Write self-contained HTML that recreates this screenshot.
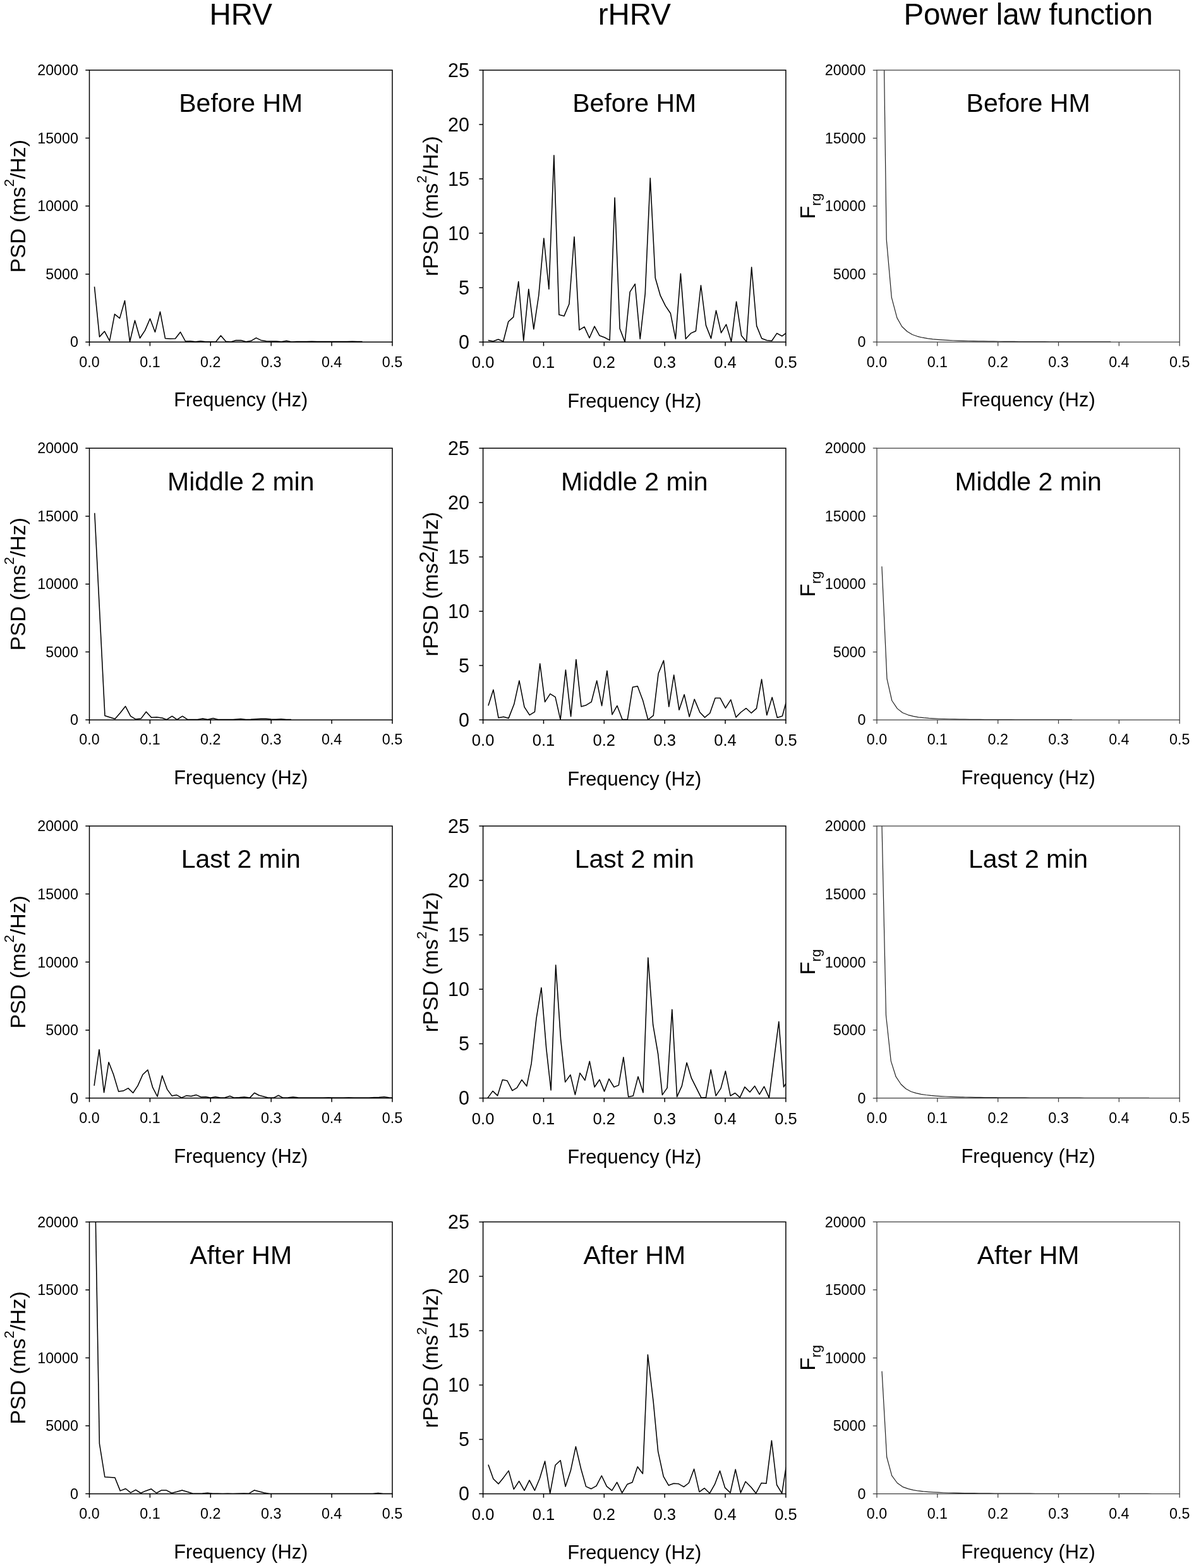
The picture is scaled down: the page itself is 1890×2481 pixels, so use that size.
<!DOCTYPE html><html><head><meta charset="utf-8"><style>html,body{margin:0;padding:0;background:#fff;}svg{display:block;}text{font-family:"Liberation Sans", Arial, sans-serif;fill:#000;}</style></head><body>
<svg width="1890" height="2481" viewBox="0 0 1890 2481">
<rect width="1890" height="2481" fill="#fff"/>
<text x="381.25" y="39.3" font-size="47.5" text-anchor="middle">HRV</text>
<g><clipPath id="cq00"><rect x="141.5" y="111" width="479.5" height="430.2"/></clipPath><polyline clip-path="url(#cq00)" points="149.5,453.6 157.5,532.9 165.5,524.3 173.5,539.3 181.5,497.1 189.5,503.6 197.5,475.7 205.5,540.7 213.5,507.1 221.5,535 229.5,522.9 237.5,504.3 245.5,525.4 253.5,493.3 261.5,535.4 269.5,536 277.5,535.7 285.5,525.4 293.5,540 301.5,539.7 309.5,540.7 317.5,539.7 325.5,540.7 333.5,540.7 341.5,541 349.5,531.1 357.5,540.3 365.5,541.1 373.5,538.6 381.5,538.6 389.5,540.7 397.5,539.3 405.5,534.6 413.5,538.6 421.5,539.7 429.5,540 437.5,540 445.5,540.7 453.5,539.3 461.5,541 469.5,540.6 477.5,540.5 485.5,540.6 493.5,540.2 501.5,540.6 509.5,540.6 517.5,540.5 525.5,540.6 533.5,540.4 541.5,540.6 549.5,540.6 557.5,540.3 565.5,540.6 573.5,540.6" fill="none" stroke="#000" stroke-width="1.55" stroke-linejoin="round"/><rect x="141.5" y="111" width="479.5" height="430.2" fill="none" stroke="#000" stroke-width="1.5"/><path d="M141.5,541.2v6.2M237.4,541.2v6.2M333.3,541.2v6.2M429.2,541.2v6.2M525.1,541.2v6.2M621,541.2v6.2M141.5,541.2h-6.2M141.5,433.65h-6.2M141.5,326.1h-6.2M141.5,218.55h-6.2M141.5,111h-6.2" stroke="#000" stroke-width="1.5" fill="none"/><text x="141.5" y="580.5" font-size="23.3" text-anchor="middle">0.0</text><text x="237.4" y="580.5" font-size="23.3" text-anchor="middle">0.1</text><text x="333.3" y="580.5" font-size="23.3" text-anchor="middle">0.2</text><text x="429.2" y="580.5" font-size="23.3" text-anchor="middle">0.3</text><text x="525.1" y="580.5" font-size="23.3" text-anchor="middle">0.4</text><text x="621" y="580.5" font-size="23.3" text-anchor="middle">0.5</text><text x="124" y="549.45" font-size="23.3" text-anchor="end">0</text><text x="124" y="441.9" font-size="23.3" text-anchor="end">5000</text><text x="124" y="334.35" font-size="23.3" text-anchor="end">10000</text><text x="124" y="226.8" font-size="23.3" text-anchor="end">15000</text><text x="124" y="119.25" font-size="23.3" text-anchor="end">20000</text><text x="381.25" y="177.4" font-size="41.0" text-anchor="middle">Before HM</text><text x="381.25" y="643.2" font-size="30.8" text-anchor="middle">Frequency (Hz)</text><text transform="translate(40.2,326.1) rotate(-90)" x="0" y="0" font-size="34.0" text-anchor="middle">PSD (ms<tspan dy="-18.0" font-size="22.0">2</tspan><tspan dy="18.0">/Hz)</tspan></text></g>
<g><clipPath id="cq10"><rect x="141.5" y="709.2" width="479.5" height="429.9"/></clipPath><polyline clip-path="url(#cq10)" points="149.8,811.7 166,1132.4 182,1137.6 190.3,1128 198.6,1117.6 206.7,1133.2 214.5,1137.9 223.1,1137.1 231.4,1126.2 239.6,1135.3 248.2,1134.8 256.8,1136.1 263.8,1138.7 272.4,1133.2 280.2,1138.7 288.8,1133.2 296.7,1138.4 304.7,1138.6 312.7,1138.4 320.9,1137.1 329,1138.6 337.3,1136.4 345,1138.6 353,1138.4 361,1138.6 369,1138.5 381,1137.5 389,1138.4 397,1138.2 405,1137.8 413,1137.3 421,1137.2 429,1138 437,1138.3 445,1137.8 453,1138.4 461,1138.5" fill="none" stroke="#000" stroke-width="1.55" stroke-linejoin="round"/><rect x="141.5" y="709.2" width="479.5" height="429.9" fill="none" stroke="#000" stroke-width="1.5"/><path d="M141.5,1139.1v6.2M237.4,1139.1v6.2M333.3,1139.1v6.2M429.2,1139.1v6.2M525.1,1139.1v6.2M621,1139.1v6.2M141.5,1139.1h-6.2M141.5,1031.62h-6.2M141.5,924.15h-6.2M141.5,816.67h-6.2M141.5,709.2h-6.2" stroke="#000" stroke-width="1.5" fill="none"/><text x="141.5" y="1178.4" font-size="23.3" text-anchor="middle">0.0</text><text x="237.4" y="1178.4" font-size="23.3" text-anchor="middle">0.1</text><text x="333.3" y="1178.4" font-size="23.3" text-anchor="middle">0.2</text><text x="429.2" y="1178.4" font-size="23.3" text-anchor="middle">0.3</text><text x="525.1" y="1178.4" font-size="23.3" text-anchor="middle">0.4</text><text x="621" y="1178.4" font-size="23.3" text-anchor="middle">0.5</text><text x="124" y="1147.35" font-size="23.3" text-anchor="end">0</text><text x="124" y="1039.87" font-size="23.3" text-anchor="end">5000</text><text x="124" y="932.4" font-size="23.3" text-anchor="end">10000</text><text x="124" y="824.92" font-size="23.3" text-anchor="end">15000</text><text x="124" y="717.45" font-size="23.3" text-anchor="end">20000</text><text x="381.25" y="775.6" font-size="41.0" text-anchor="middle">Middle 2 min</text><text x="381.25" y="1241.1" font-size="30.8" text-anchor="middle">Frequency (Hz)</text><text transform="translate(40.2,924.15) rotate(-90)" x="0" y="0" font-size="34.0" text-anchor="middle">PSD (ms<tspan dy="-18.0" font-size="22.0">2</tspan><tspan dy="18.0">/Hz)</tspan></text></g>
<g><clipPath id="cq20"><rect x="141.5" y="1307" width="479.5" height="430.5"/></clipPath><polyline clip-path="url(#cq20)" points="149.1,1717.9 157,1660.7 164.6,1728.6 172.1,1680.7 179.6,1700 187.7,1727.1 195,1726.1 202.9,1721.9 210.6,1729.3 218.1,1717.9 226,1700.3 233.9,1692.9 241.7,1720.7 249.1,1735 256.7,1702.1 264.6,1723.6 272.1,1733.9 279.6,1732.6 287.4,1736.9 295,1733.6 302.4,1734.6 310.3,1732.4 318.1,1735.7 326,1735.4 333.1,1737.1 341,1735.4 348.9,1736.9 356,1736.7 363.9,1734.3 371,1737.1 378.8,1736.6 386.7,1735.7 395.3,1737.1 402.7,1729.3 410.3,1733.3 417.4,1735 424.6,1737.1 433.1,1737.1 440.7,1733.3 448.1,1737.1 456,1736.8 463.9,1735.7 472,1736.8 480,1737 488,1736.9 496,1737 504,1736.9 512,1736.9 520,1736.7 528,1737 536,1736.9 544,1737 552,1736.8 560,1737 568,1737 576,1736.9 584,1736.9 592,1736.5 600,1736.2 608.1,1735.4 616,1736.8 621,1737" fill="none" stroke="#000" stroke-width="1.55" stroke-linejoin="round"/><rect x="141.5" y="1307" width="479.5" height="430.5" fill="none" stroke="#000" stroke-width="1.5"/><path d="M141.5,1737.5v6.2M237.4,1737.5v6.2M333.3,1737.5v6.2M429.2,1737.5v6.2M525.1,1737.5v6.2M621,1737.5v6.2M141.5,1737.5h-6.2M141.5,1629.88h-6.2M141.5,1522.25h-6.2M141.5,1414.62h-6.2M141.5,1307h-6.2" stroke="#000" stroke-width="1.5" fill="none"/><text x="141.5" y="1776.8" font-size="23.3" text-anchor="middle">0.0</text><text x="237.4" y="1776.8" font-size="23.3" text-anchor="middle">0.1</text><text x="333.3" y="1776.8" font-size="23.3" text-anchor="middle">0.2</text><text x="429.2" y="1776.8" font-size="23.3" text-anchor="middle">0.3</text><text x="525.1" y="1776.8" font-size="23.3" text-anchor="middle">0.4</text><text x="621" y="1776.8" font-size="23.3" text-anchor="middle">0.5</text><text x="124" y="1745.75" font-size="23.3" text-anchor="end">0</text><text x="124" y="1638.12" font-size="23.3" text-anchor="end">5000</text><text x="124" y="1530.5" font-size="23.3" text-anchor="end">10000</text><text x="124" y="1422.87" font-size="23.3" text-anchor="end">15000</text><text x="124" y="1315.25" font-size="23.3" text-anchor="end">20000</text><text x="381.25" y="1373.4" font-size="41.0" text-anchor="middle">Last 2 min</text><text x="381.25" y="1839.5" font-size="30.8" text-anchor="middle">Frequency (Hz)</text><text transform="translate(40.2,1522.25) rotate(-90)" x="0" y="0" font-size="34.0" text-anchor="middle">PSD (ms<tspan dy="-18.0" font-size="22.0">2</tspan><tspan dy="18.0">/Hz)</tspan></text></g>
<g><clipPath id="cq30"><rect x="141.5" y="1933.4" width="479.5" height="430.2"/></clipPath><polyline clip-path="url(#cq30)" points="149.4,1816 157.4,2284.1 165.9,2337 181.9,2338 190.3,2358.9 198.9,2355.5 206.8,2361.9 214.8,2357.3 222.8,2362.5 230.8,2358.9 239.2,2355.9 247.7,2362.5 255.7,2357.9 263.1,2357.9 271.7,2362.5 280.3,2360.3 288.2,2357.9 296.6,2360.5 304.6,2363 312.6,2363.2 320.6,2363 328.5,2362.3 336.5,2363.2 344.5,2363.3 352.5,2363.4 360.5,2363.3 368.5,2363.4 376.5,2363.3 386.1,2363.1 394.1,2363.2 402.7,2357.9 418.1,2362.1 426.7,2363.4 434.7,2363.6 442.7,2363.5 450.7,2363.6 590,2363.6 598.5,2362.6 606.5,2363.6 621,2363.6" fill="none" stroke="#000" stroke-width="1.55" stroke-linejoin="round"/><rect x="141.5" y="1933.4" width="479.5" height="430.2" fill="none" stroke="#000" stroke-width="1.5"/><path d="M141.5,2363.6v6.2M237.4,2363.6v6.2M333.3,2363.6v6.2M429.2,2363.6v6.2M525.1,2363.6v6.2M621,2363.6v6.2M141.5,2363.6h-6.2M141.5,2256.05h-6.2M141.5,2148.5h-6.2M141.5,2040.95h-6.2M141.5,1933.4h-6.2" stroke="#000" stroke-width="1.5" fill="none"/><text x="141.5" y="2402.9" font-size="23.3" text-anchor="middle">0.0</text><text x="237.4" y="2402.9" font-size="23.3" text-anchor="middle">0.1</text><text x="333.3" y="2402.9" font-size="23.3" text-anchor="middle">0.2</text><text x="429.2" y="2402.9" font-size="23.3" text-anchor="middle">0.3</text><text x="525.1" y="2402.9" font-size="23.3" text-anchor="middle">0.4</text><text x="621" y="2402.9" font-size="23.3" text-anchor="middle">0.5</text><text x="124" y="2371.85" font-size="23.3" text-anchor="end">0</text><text x="124" y="2264.3" font-size="23.3" text-anchor="end">5000</text><text x="124" y="2156.75" font-size="23.3" text-anchor="end">10000</text><text x="124" y="2049.2" font-size="23.3" text-anchor="end">15000</text><text x="124" y="1941.65" font-size="23.3" text-anchor="end">20000</text><text x="381.25" y="1999.8" font-size="41.0" text-anchor="middle">After HM</text><text x="381.25" y="2465.6" font-size="30.8" text-anchor="middle">Frequency (Hz)</text><text transform="translate(40.2,2148.5) rotate(-90)" x="0" y="0" font-size="34.0" text-anchor="middle">PSD (ms<tspan dy="-18.0" font-size="22.0">2</tspan><tspan dy="18.0">/Hz)</tspan></text></g>
<text x="1004.25" y="39.3" font-size="47.5" text-anchor="middle">rHRV</text>
<g><clipPath id="cq01"><rect x="764.6" y="111" width="479.3" height="430.2"/></clipPath><polyline clip-path="url(#cq01)" points="772.62,538.4 780.64,539.9 788.66,537 796.68,540.2 804.7,509 812.72,501.6 820.74,445.6 828.76,539.2 836.78,457.6 844.8,520.8 852.82,467 860.84,377 868.86,457.5 876.88,245.8 884.9,497.9 892.92,500.1 900.94,481 908.96,374.8 916.98,522.2 925,517.1 933.02,534.8 941.04,516.3 949.06,531.1 957.08,534 965.1,538.4 973.12,312.9 981.14,520 989.16,541.1 997.18,461.8 1005.2,449.3 1013.22,536.2 1021.24,464.7 1029.26,281.9 1037.28,439.7 1045.3,467.7 1053.32,483.9 1061.34,495.7 1069.36,536.2 1077.38,433 1085.4,536.2 1093.42,527.4 1101.44,523.7 1109.46,451.5 1117.48,514.9 1125.5,535.5 1133.52,491.3 1141.54,526.7 1149.56,513.4 1157.58,540.7 1165.6,477.3 1173.62,531.1 1181.64,540.7 1189.66,422.7 1197.68,515.6 1205.7,535.5 1213.72,538.4 1221.74,539.2 1229.76,527.4 1237.78,531.8 1245.8,525.9" fill="none" stroke="#000" stroke-width="1.55" stroke-linejoin="round"/><rect x="764.6" y="111" width="479.3" height="430.2" fill="none" stroke="#000" stroke-width="1.5"/><path d="M764.6,541.2v6.2M860.46,541.2v6.2M956.32,541.2v6.2M1052.18,541.2v6.2M1148.04,541.2v6.2M1243.9,541.2v6.2M764.6,541.2h-6.2M764.6,455.16h-6.2M764.6,369.12h-6.2M764.6,283.08h-6.2M764.6,197.04h-6.2M764.6,111h-6.2" stroke="#000" stroke-width="1.5" fill="none"/><text x="764.6" y="582.2" font-size="25.5" text-anchor="middle">0.0</text><text x="860.46" y="582.2" font-size="25.5" text-anchor="middle">0.1</text><text x="956.32" y="582.2" font-size="25.5" text-anchor="middle">0.2</text><text x="1052.18" y="582.2" font-size="25.5" text-anchor="middle">0.3</text><text x="1148.04" y="582.2" font-size="25.5" text-anchor="middle">0.4</text><text x="1243.9" y="582.2" font-size="25.5" text-anchor="middle">0.5</text><text x="743" y="552" font-size="30.5" text-anchor="end">0</text><text x="743" y="465.96" font-size="30.5" text-anchor="end">5</text><text x="743" y="379.92" font-size="30.5" text-anchor="end">10</text><text x="743" y="293.88" font-size="30.5" text-anchor="end">15</text><text x="743" y="207.84" font-size="30.5" text-anchor="end">20</text><text x="743" y="121.8" font-size="30.5" text-anchor="end">25</text><text x="1004.25" y="177.4" font-size="41.0" text-anchor="middle">Before HM</text><text x="1004.25" y="644.7" font-size="30.8" text-anchor="middle">Frequency (Hz)</text><text transform="translate(692.9,326.1) rotate(-90)" x="0" y="0" font-size="34.0" text-anchor="middle">rPSD (ms<tspan dy="-18.0" font-size="22.0">2</tspan><tspan dy="18.0">/Hz)</tspan></text></g>
<g><clipPath id="cq11"><rect x="764.6" y="709.2" width="479.3" height="429.9"/></clipPath><polyline clip-path="url(#cq11)" points="772.9,1116.4 780.9,1091.4 789,1135.7 797.1,1134.3 805.1,1136.4 813.7,1114.3 821.9,1077.1 830,1118.6 838.3,1131.4 846.4,1126.4 854.7,1050 862.6,1110.7 870.9,1097.9 879,1102.9 887.1,1138.6 895.4,1060 903.6,1133.6 911.9,1043.6 920,1117.9 928,1115.7 936.1,1110.7 944.7,1077.1 952.6,1116.7 960.9,1061.4 969,1130.7 976.9,1116.7 985.1,1138.6 993.3,1138.3 1001.5,1087.2 1009.2,1085.7 1017.7,1108.6 1025.8,1138.8 1034.2,1132.2 1042.1,1065.8 1050.5,1045.1 1058.8,1118.2 1066.7,1068 1075,1123.3 1083.1,1099 1091.2,1134.1 1099.2,1106.4 1107.8,1127 1115.6,1135.1 1123.7,1128.5 1132.1,1104.4 1139.9,1104.4 1148.4,1120.4 1156.8,1107.1 1165,1134.9 1172.7,1127 1181.1,1120.7 1189.3,1128.2 1197.5,1120.8 1205.6,1074.9 1213.8,1131.5 1222.2,1103.4 1230.3,1135.4 1238.4,1132.9 1244.2,1111.5" fill="none" stroke="#000" stroke-width="1.55" stroke-linejoin="round"/><rect x="764.6" y="709.2" width="479.3" height="429.9" fill="none" stroke="#000" stroke-width="1.5"/><path d="M764.6,1139.1v6.2M860.46,1139.1v6.2M956.32,1139.1v6.2M1052.18,1139.1v6.2M1148.04,1139.1v6.2M1243.9,1139.1v6.2M764.6,1139.1h-6.2M764.6,1053.12h-6.2M764.6,967.14h-6.2M764.6,881.16h-6.2M764.6,795.18h-6.2M764.6,709.2h-6.2" stroke="#000" stroke-width="1.5" fill="none"/><text x="764.6" y="1180.1" font-size="25.5" text-anchor="middle">0.0</text><text x="860.46" y="1180.1" font-size="25.5" text-anchor="middle">0.1</text><text x="956.32" y="1180.1" font-size="25.5" text-anchor="middle">0.2</text><text x="1052.18" y="1180.1" font-size="25.5" text-anchor="middle">0.3</text><text x="1148.04" y="1180.1" font-size="25.5" text-anchor="middle">0.4</text><text x="1243.9" y="1180.1" font-size="25.5" text-anchor="middle">0.5</text><text x="743" y="1149.9" font-size="30.5" text-anchor="end">0</text><text x="743" y="1063.92" font-size="30.5" text-anchor="end">5</text><text x="743" y="977.94" font-size="30.5" text-anchor="end">10</text><text x="743" y="891.96" font-size="30.5" text-anchor="end">15</text><text x="743" y="805.98" font-size="30.5" text-anchor="end">20</text><text x="743" y="720" font-size="30.5" text-anchor="end">25</text><text x="1004.25" y="775.6" font-size="41.0" text-anchor="middle">Middle 2 min</text><text x="1004.25" y="1242.6" font-size="30.8" text-anchor="middle">Frequency (Hz)</text><text transform="translate(692.9,924.15) rotate(-90)" x="0" y="0" font-size="34.0" text-anchor="middle">rPSD (ms<tspan dy="-6">2</tspan><tspan dy="6">/Hz)</tspan></text></g>
<g><clipPath id="cq21"><rect x="764.6" y="1307" width="479.3" height="430.5"/></clipPath><polyline clip-path="url(#cq21)" points="772.1,1737.1 780,1726.4 787.6,1733.6 795.4,1708.6 802.9,1710 810.9,1725.7 818.3,1721.1 825.9,1708.6 833.7,1718.6 841.1,1682.9 849,1611.4 856.9,1562.9 864.7,1658.6 872.1,1725 879.7,1527.1 887.6,1644.3 894.7,1712.1 902.9,1700.7 910.4,1732.1 918,1697.9 925.9,1709.3 933.3,1679.3 941.1,1720 949,1708.3 956.6,1726.9 964,1707.1 971.9,1720 979.3,1717.1 986.9,1672.9 994.7,1735.4 1002.2,1733.9 1010,1703.6 1018,1728.7 1025.8,1515.4 1033.7,1621.7 1041.6,1667.5 1048.4,1732.4 1056.1,1721.4 1063.8,1597.4 1071.6,1735.4 1079.3,1718.4 1087.1,1681.5 1094.5,1705.9 1110,1736.9 1117.4,1736.6 1125.2,1692.6 1133.2,1733.9 1141,1722.1 1148.4,1694.8 1156.2,1733.9 1163.6,1729.5 1171.2,1736.6 1178.9,1719.9 1187,1728 1194.6,1718.4 1202.2,1731.7 1209.6,1719.2 1217.4,1736.9 1232.8,1616.6 1240.6,1719.9 1244.2,1714" fill="none" stroke="#000" stroke-width="1.55" stroke-linejoin="round"/><rect x="764.6" y="1307" width="479.3" height="430.5" fill="none" stroke="#000" stroke-width="1.5"/><path d="M764.6,1737.5v6.2M860.46,1737.5v6.2M956.32,1737.5v6.2M1052.18,1737.5v6.2M1148.04,1737.5v6.2M1243.9,1737.5v6.2M764.6,1737.5h-6.2M764.6,1651.4h-6.2M764.6,1565.3h-6.2M764.6,1479.2h-6.2M764.6,1393.1h-6.2M764.6,1307h-6.2" stroke="#000" stroke-width="1.5" fill="none"/><text x="764.6" y="1778.5" font-size="25.5" text-anchor="middle">0.0</text><text x="860.46" y="1778.5" font-size="25.5" text-anchor="middle">0.1</text><text x="956.32" y="1778.5" font-size="25.5" text-anchor="middle">0.2</text><text x="1052.18" y="1778.5" font-size="25.5" text-anchor="middle">0.3</text><text x="1148.04" y="1778.5" font-size="25.5" text-anchor="middle">0.4</text><text x="1243.9" y="1778.5" font-size="25.5" text-anchor="middle">0.5</text><text x="743" y="1748.3" font-size="30.5" text-anchor="end">0</text><text x="743" y="1662.2" font-size="30.5" text-anchor="end">5</text><text x="743" y="1576.1" font-size="30.5" text-anchor="end">10</text><text x="743" y="1490" font-size="30.5" text-anchor="end">15</text><text x="743" y="1403.9" font-size="30.5" text-anchor="end">20</text><text x="743" y="1317.8" font-size="30.5" text-anchor="end">25</text><text x="1004.25" y="1373.4" font-size="41.0" text-anchor="middle">Last 2 min</text><text x="1004.25" y="1841" font-size="30.8" text-anchor="middle">Frequency (Hz)</text><text transform="translate(692.9,1522.25) rotate(-90)" x="0" y="0" font-size="34.0" text-anchor="middle">rPSD (ms<tspan dy="-18.0" font-size="22.0">2</tspan><tspan dy="18.0">/Hz)</tspan></text></g>
<g><clipPath id="cq31"><rect x="764.6" y="1933.4" width="479.3" height="430.2"/></clipPath><polyline clip-path="url(#cq31)" points="772.9,2317.4 780.9,2340 789,2347.9 797.1,2337.9 805.1,2327.1 813.3,2356.4 821.6,2343.6 830,2358.3 838,2342.1 846.4,2358.3 854.3,2339.3 862.6,2312.1 870.7,2362.9 879,2318.3 887.1,2310.7 895.1,2352.1 903.3,2327.1 911.4,2288.9 919.7,2324.3 927.6,2352.1 935.9,2355.7 944,2351.1 952.3,2335 960.4,2351.9 968.6,2358.3 976.6,2345.4 984.7,2362.1 992.9,2348.6 1000.9,2345.6 1009.2,2320.7 1017.4,2331.8 1025.4,2143.5 1034.2,2218.1 1041.6,2296.3 1050.2,2336.2 1058.3,2350.2 1066.4,2347.3 1073.8,2347.7 1082.4,2352.7 1090.3,2346.5 1098.6,2324.4 1107,2360.6 1115.1,2354.7 1123.3,2362.8 1131.4,2348.7 1139.5,2327.3 1147.6,2353.9 1156,2362 1164.2,2325.1 1172.4,2362 1180.1,2344.3 1189,2353.2 1196.6,2362.8 1205.2,2346.5 1212.9,2347.3 1221.4,2279.4 1229.6,2349.5 1237.7,2362.8 1244.2,2321.4" fill="none" stroke="#000" stroke-width="1.55" stroke-linejoin="round"/><rect x="764.6" y="1933.4" width="479.3" height="430.2" fill="none" stroke="#000" stroke-width="1.5"/><path d="M764.6,2363.6v6.2M860.46,2363.6v6.2M956.32,2363.6v6.2M1052.18,2363.6v6.2M1148.04,2363.6v6.2M1243.9,2363.6v6.2M764.6,2363.6h-6.2M764.6,2277.56h-6.2M764.6,2191.52h-6.2M764.6,2105.48h-6.2M764.6,2019.44h-6.2M764.6,1933.4h-6.2" stroke="#000" stroke-width="1.5" fill="none"/><text x="764.6" y="2404.6" font-size="25.5" text-anchor="middle">0.0</text><text x="860.46" y="2404.6" font-size="25.5" text-anchor="middle">0.1</text><text x="956.32" y="2404.6" font-size="25.5" text-anchor="middle">0.2</text><text x="1052.18" y="2404.6" font-size="25.5" text-anchor="middle">0.3</text><text x="1148.04" y="2404.6" font-size="25.5" text-anchor="middle">0.4</text><text x="1243.9" y="2404.6" font-size="25.5" text-anchor="middle">0.5</text><text x="743" y="2374.4" font-size="30.5" text-anchor="end">0</text><text x="743" y="2288.36" font-size="30.5" text-anchor="end">5</text><text x="743" y="2202.32" font-size="30.5" text-anchor="end">10</text><text x="743" y="2116.28" font-size="30.5" text-anchor="end">15</text><text x="743" y="2030.24" font-size="30.5" text-anchor="end">20</text><text x="743" y="1944.2" font-size="30.5" text-anchor="end">25</text><text x="1004.25" y="1999.8" font-size="41.0" text-anchor="middle">After HM</text><text x="1004.25" y="2467.1" font-size="30.8" text-anchor="middle">Frequency (Hz)</text><text transform="translate(692.9,2148.5) rotate(-90)" x="0" y="0" font-size="34.0" text-anchor="middle">rPSD (ms<tspan dy="-18.0" font-size="22.0">2</tspan><tspan dy="18.0">/Hz)</tspan></text></g>
<text x="1627.6" y="39.3" font-size="47.5" text-anchor="middle" letter-spacing="-0.26">Power law function</text>
<g><clipPath id="cp0"><rect x="1388" y="111" width="479.2" height="430.2"/></clipPath><polyline clip-path="url(#cp0)" points="1399.6,111 1403.2,379 1411.3,470.6 1419.9,502.9 1427.7,516.8 1436,524.5 1444.3,529.5 1452.35,532.3 1460.4,534.21 1468.45,535.57 1476.5,536.57 1484.55,537.32 1492.6,537.91 1500.65,538.37 1508.7,538.75 1516.75,539.05 1524.8,539.3 1532.85,539.51 1540.9,539.69 1548.95,539.84 1557,539.97 1565.05,540.08 1573.1,540.18 1581.15,540.26 1589.2,540.34 1597.25,540.41 1605.3,540.46 1613.35,540.52 1621.4,540.57 1629.45,540.61 1637.5,540.65 1645.55,540.68 1653.6,540.71 1661.65,540.74 1669.7,540.77 1677.75,540.79 1685.8,540.81 1693.85,540.84 1701.9,540.85 1709.95,540.87 1718,540.89 1726.05,540.9 1734.1,540.92 1742.15,540.93 1750.2,540.94 1758.25,540.95" fill="none" stroke="#222" stroke-width="1.2" stroke-linejoin="round"/><rect x="1388" y="111" width="479.2" height="430.2" fill="none" stroke="#3e3e3e" stroke-width="1.25"/><path d="M1388,541.2v6.2M1483.84,541.2v6.2M1579.68,541.2v6.2M1675.52,541.2v6.2M1771.36,541.2v6.2M1867.2,541.2v6.2M1388,541.2h-6.2M1388,433.65h-6.2M1388,326.1h-6.2M1388,218.55h-6.2M1388,111h-6.2" stroke="#3e3e3e" stroke-width="1.25" fill="none"/><text x="1388" y="580.5" font-size="23.3" text-anchor="middle">0.0</text><text x="1483.84" y="580.5" font-size="23.3" text-anchor="middle">0.1</text><text x="1579.68" y="580.5" font-size="23.3" text-anchor="middle">0.2</text><text x="1675.52" y="580.5" font-size="23.3" text-anchor="middle">0.3</text><text x="1771.36" y="580.5" font-size="23.3" text-anchor="middle">0.4</text><text x="1867.2" y="580.5" font-size="23.3" text-anchor="middle">0.5</text><text x="1370.5" y="549.45" font-size="23.3" text-anchor="end">0</text><text x="1370.5" y="441.9" font-size="23.3" text-anchor="end">5000</text><text x="1370.5" y="334.35" font-size="23.3" text-anchor="end">10000</text><text x="1370.5" y="226.8" font-size="23.3" text-anchor="end">15000</text><text x="1370.5" y="119.25" font-size="23.3" text-anchor="end">20000</text><text x="1627.6" y="177.4" font-size="41.0" text-anchor="middle">Before HM</text><text x="1627.6" y="643.2" font-size="30.8" text-anchor="middle">Frequency (Hz)</text><text transform="translate(1290,326.1) rotate(-90)" x="0" y="0" font-size="34.0" text-anchor="middle">F<tspan dy="9" font-size="22.4">rg</tspan></text></g>
<g><clipPath id="cp1"><rect x="1388" y="709.2" width="479.2" height="429.9"/></clipPath><polyline clip-path="url(#cp1)" points="1395.9,896.3 1404,1074.2 1411.8,1108.5 1420.3,1121.1 1428.7,1127.7 1437.7,1131.3 1445.8,1133.42 1453.9,1134.79 1462,1135.72 1470.1,1136.38 1478.2,1136.86 1486.3,1137.23 1494.4,1137.51 1502.5,1137.74 1510.6,1137.92 1518.7,1138.07 1526.8,1138.19 1534.9,1138.29 1543,1138.37 1551.1,1138.45 1559.2,1138.51 1567.3,1138.56 1575.4,1138.61 1583.5,1138.65 1591.6,1138.69 1599.7,1138.72 1607.8,1138.75 1615.9,1138.77 1624,1138.8 1632.1,1138.82 1640.2,1138.84 1648.3,1138.85 1656.4,1138.87 1664.5,1138.88 1672.6,1138.89 1680.7,1138.91 1688.8,1138.92 1696.9,1138.93" fill="none" stroke="#222" stroke-width="1.2" stroke-linejoin="round"/><rect x="1388" y="709.2" width="479.2" height="429.9" fill="none" stroke="#3e3e3e" stroke-width="1.25"/><path d="M1388,1139.1v6.2M1483.84,1139.1v6.2M1579.68,1139.1v6.2M1675.52,1139.1v6.2M1771.36,1139.1v6.2M1867.2,1139.1v6.2M1388,1139.1h-6.2M1388,1031.62h-6.2M1388,924.15h-6.2M1388,816.67h-6.2M1388,709.2h-6.2" stroke="#3e3e3e" stroke-width="1.25" fill="none"/><text x="1388" y="1178.4" font-size="23.3" text-anchor="middle">0.0</text><text x="1483.84" y="1178.4" font-size="23.3" text-anchor="middle">0.1</text><text x="1579.68" y="1178.4" font-size="23.3" text-anchor="middle">0.2</text><text x="1675.52" y="1178.4" font-size="23.3" text-anchor="middle">0.3</text><text x="1771.36" y="1178.4" font-size="23.3" text-anchor="middle">0.4</text><text x="1867.2" y="1178.4" font-size="23.3" text-anchor="middle">0.5</text><text x="1370.5" y="1147.35" font-size="23.3" text-anchor="end">0</text><text x="1370.5" y="1039.87" font-size="23.3" text-anchor="end">5000</text><text x="1370.5" y="932.4" font-size="23.3" text-anchor="end">10000</text><text x="1370.5" y="824.92" font-size="23.3" text-anchor="end">15000</text><text x="1370.5" y="717.45" font-size="23.3" text-anchor="end">20000</text><text x="1627.6" y="775.6" font-size="41.0" text-anchor="middle">Middle 2 min</text><text x="1627.6" y="1241.1" font-size="30.8" text-anchor="middle">Frequency (Hz)</text><text transform="translate(1290,924.15) rotate(-90)" x="0" y="0" font-size="34.0" text-anchor="middle">F<tspan dy="9" font-size="22.4">rg</tspan></text></g>
<g><clipPath id="cp2"><rect x="1388" y="1307" width="479.2" height="430.5"/></clipPath><polyline clip-path="url(#cp2)" points="1396,1307 1402.5,1606.8 1410.3,1678.9 1418.2,1703.7 1426.1,1715.5 1433.9,1722.7 1442.2,1727.2 1450.05,1729.66 1457.9,1731.33 1465.75,1732.52 1473.6,1733.4 1481.45,1734.07 1489.3,1734.59 1497.15,1735 1505,1735.32 1512.85,1735.59 1520.7,1735.81 1528.55,1736 1536.4,1736.16 1544.25,1736.29 1552.1,1736.4 1559.95,1736.5 1567.8,1736.59 1575.65,1736.67 1583.5,1736.73 1591.35,1736.79 1599.2,1736.84 1607.05,1736.89 1614.9,1736.93 1622.75,1736.97 1630.6,1737.01 1638.45,1737.04 1646.3,1737.06 1654.15,1737.09 1662,1737.11 1669.85,1737.14 1677.7,1737.16 1685.55,1737.17 1693.4,1737.19 1701.25,1737.21 1709.1,1737.22 1716.95,1737.23 1724.8,1737.25 1732.65,1737.26 1740.5,1737.27 1748.35,1737.28 1756.2,1737.29 1764.05,1737.3 1771.9,1737.31 1779.75,1737.31 1787.6,1737.32 1795.45,1737.33 1803.3,1737.33 1811.15,1737.34 1819,1737.35" fill="none" stroke="#222" stroke-width="1.2" stroke-linejoin="round"/><rect x="1388" y="1307" width="479.2" height="430.5" fill="none" stroke="#3e3e3e" stroke-width="1.25"/><path d="M1388,1737.5v6.2M1483.84,1737.5v6.2M1579.68,1737.5v6.2M1675.52,1737.5v6.2M1771.36,1737.5v6.2M1867.2,1737.5v6.2M1388,1737.5h-6.2M1388,1629.88h-6.2M1388,1522.25h-6.2M1388,1414.62h-6.2M1388,1307h-6.2" stroke="#3e3e3e" stroke-width="1.25" fill="none"/><text x="1388" y="1776.8" font-size="23.3" text-anchor="middle">0.0</text><text x="1483.84" y="1776.8" font-size="23.3" text-anchor="middle">0.1</text><text x="1579.68" y="1776.8" font-size="23.3" text-anchor="middle">0.2</text><text x="1675.52" y="1776.8" font-size="23.3" text-anchor="middle">0.3</text><text x="1771.36" y="1776.8" font-size="23.3" text-anchor="middle">0.4</text><text x="1867.2" y="1776.8" font-size="23.3" text-anchor="middle">0.5</text><text x="1370.5" y="1745.75" font-size="23.3" text-anchor="end">0</text><text x="1370.5" y="1638.12" font-size="23.3" text-anchor="end">5000</text><text x="1370.5" y="1530.5" font-size="23.3" text-anchor="end">10000</text><text x="1370.5" y="1422.87" font-size="23.3" text-anchor="end">15000</text><text x="1370.5" y="1315.25" font-size="23.3" text-anchor="end">20000</text><text x="1627.6" y="1373.4" font-size="41.0" text-anchor="middle">Last 2 min</text><text x="1627.6" y="1839.5" font-size="30.8" text-anchor="middle">Frequency (Hz)</text><text transform="translate(1290,1522.25) rotate(-90)" x="0" y="0" font-size="34.0" text-anchor="middle">F<tspan dy="9" font-size="22.4">rg</tspan></text></g>
<g><clipPath id="cp3"><rect x="1388" y="1933.4" width="479.2" height="430.2"/></clipPath><polyline clip-path="url(#cp3)" points="1396,2169.6 1403.7,2305.5 1411.7,2334.8 1420.3,2346.5 1428.8,2352.6 1437.4,2355.6 1445.45,2357.63 1453.5,2358.97 1461.55,2359.9 1469.6,2360.57 1477.65,2361.07 1485.7,2361.46 1493.75,2361.76 1501.8,2362 1509.85,2362.2 1517.9,2362.36 1525.95,2362.49 1534,2362.61 1542.05,2362.7 1550.1,2362.79 1558.15,2362.86 1566.2,2362.92 1574.25,2362.98 1582.3,2363.03 1590.35,2363.07 1598.4,2363.11 1606.45,2363.14 1614.5,2363.17 1622.55,2363.2 1630.6,2363.22 1638.65,2363.25 1646.7,2363.27 1654.75,2363.29 1662.8,2363.3 1670.85,2363.32 1678.9,2363.33 1686.95,2363.35 1695,2363.36 1703.05,2363.37 1711.1,2363.38 1719.15,2363.39 1727.2,2363.4 1735.25,2363.41 1743.3,2363.42 1751.35,2363.43 1759.4,2363.43 1767.45,2363.44 1775.5,2363.45 1783.55,2363.45 1791.6,2363.46 1799.65,2363.46 1807.7,2363.47 1815.75,2363.47 1823.8,2363.48 1831.85,2363.48 1839.9,2363.49 1847.95,2363.49 1856,2363.49 1864.05,2363.5" fill="none" stroke="#222" stroke-width="1.2" stroke-linejoin="round"/><rect x="1388" y="1933.4" width="479.2" height="430.2" fill="none" stroke="#3e3e3e" stroke-width="1.25"/><path d="M1388,2363.6v6.2M1483.84,2363.6v6.2M1579.68,2363.6v6.2M1675.52,2363.6v6.2M1771.36,2363.6v6.2M1867.2,2363.6v6.2M1388,2363.6h-6.2M1388,2256.05h-6.2M1388,2148.5h-6.2M1388,2040.95h-6.2M1388,1933.4h-6.2" stroke="#3e3e3e" stroke-width="1.25" fill="none"/><text x="1388" y="2402.9" font-size="23.3" text-anchor="middle">0.0</text><text x="1483.84" y="2402.9" font-size="23.3" text-anchor="middle">0.1</text><text x="1579.68" y="2402.9" font-size="23.3" text-anchor="middle">0.2</text><text x="1675.52" y="2402.9" font-size="23.3" text-anchor="middle">0.3</text><text x="1771.36" y="2402.9" font-size="23.3" text-anchor="middle">0.4</text><text x="1867.2" y="2402.9" font-size="23.3" text-anchor="middle">0.5</text><text x="1370.5" y="2371.85" font-size="23.3" text-anchor="end">0</text><text x="1370.5" y="2264.3" font-size="23.3" text-anchor="end">5000</text><text x="1370.5" y="2156.75" font-size="23.3" text-anchor="end">10000</text><text x="1370.5" y="2049.2" font-size="23.3" text-anchor="end">15000</text><text x="1370.5" y="1941.65" font-size="23.3" text-anchor="end">20000</text><text x="1627.6" y="1999.8" font-size="41.0" text-anchor="middle">After HM</text><text x="1627.6" y="2465.6" font-size="30.8" text-anchor="middle">Frequency (Hz)</text><text transform="translate(1290,2148.5) rotate(-90)" x="0" y="0" font-size="34.0" text-anchor="middle">F<tspan dy="9" font-size="22.4">rg</tspan></text></g>
</svg></body></html>
